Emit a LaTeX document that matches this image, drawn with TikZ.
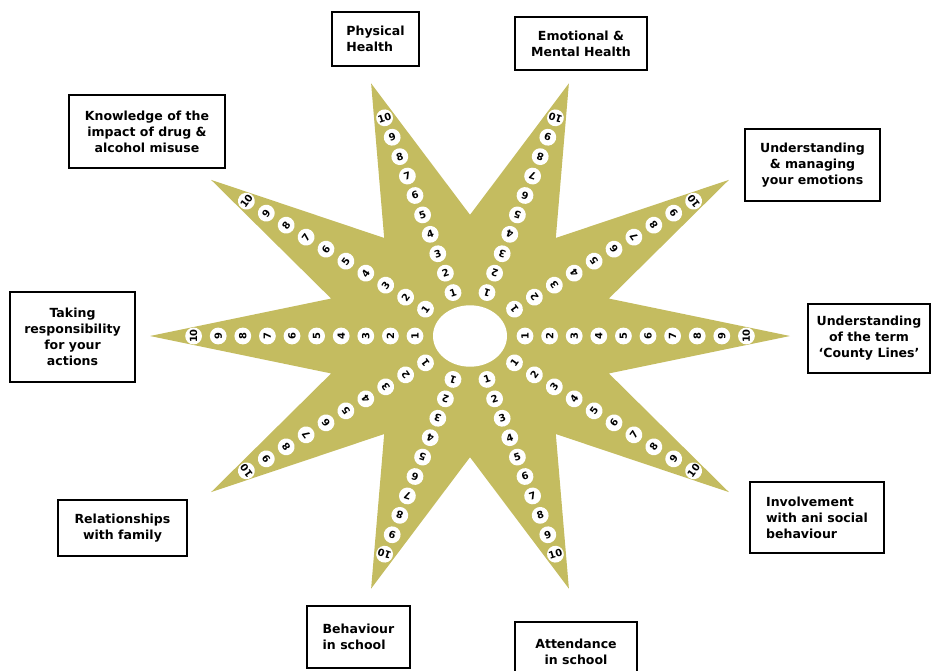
\documentclass[tikz,border=0pt]{standalone}
\usepackage{fontspec}
\setmainfont{DejaVu Sans}
\usepackage{tikz}
\usetikzlibrary{positioning}

\definecolor{starolive}{RGB}{196,188,96}

\tikzset{
  cardbox/.style={draw, line width=1.4pt, fill=white, inner sep=2pt,
    font=\bfseries\fontsize{9.4}{12}\selectfont},
  numdot/.style={circle, fill=white, inner sep=0pt, minimum size=12.6pt,
    font=\bfseries\fontsize{7.4}{7.4}\selectfont}
}

\begin{document}
\begin{tikzpicture}[x=0.75pt, y=-0.75pt]
	\useasboundingbox (0,0) rectangle (932,671);
	% star with the scales
	\begin{scope}[shift={(470,336)}, yscale=-0.83]
		\fill[starolive] (0:320) \foreach \a in {0,36,...,324}{ -- (\a:320) -- (\a+18:146)} -- cycle;
		\fill[white] (0,0) circle (37);
		\foreach \a/\r in {108/18, 72/162, 36/126, 0/90, -36/54, -72/18, -108/162, -144/126, 180/90, 144/54}{
			\foreach \k in {1,...,10}{
				\node[numdot, rotate=\r] (n\a-\k) at (\a:{55+24.6*(\k-1)}) {\k};
			}
		}
	\end{scope}
	% labels
	\node[cardbox, align=left, minimum width=65.3pt, minimum height=40.5pt] (physical) at (375.5,39) {Physical\\Health};
	\node[cardbox, align=center, minimum width=99pt, minimum height=39.8pt] (emotional) at (581,43.5) {Emotional \&\\Mental Health};
	\node[cardbox, align=center, minimum width=117pt, minimum height=54.8pt] (drugs) at (147,131.5) {Knowledge of the\\impact of drug \&\\alcohol misuse};
	\node[cardbox, align=center, minimum width=101.3pt, minimum height=54pt] (managing) at (812.5,165) {Understanding\\\& managing\\your emotions};
	\node[cardbox, align=center, minimum width=93.8pt, minimum height=67.5pt] (responsibility) at (72.5,337) {Taking\\responsibility\\for your\\actions};
	\node[cardbox, align=center, minimum width=91.5pt, minimum height=51.8pt] (county) at (869,338.5) {Understanding\\of the term\\‘County Lines’};
	\node[cardbox, align=center, minimum width=96.8pt, minimum height=42pt] (family) at (122.5,528) {Relationships\\with family};
	\node[cardbox, align=left, minimum width=100.5pt, minimum height=53.3pt] (antisocial) at (817,517.5) {Involvement\\with ani social\\behaviour};
	\node[cardbox, align=left, minimum width=77.3pt, minimum height=46.5pt] (behaviour) at (358.5,637) {Behaviour\\in school};
	\node[cardbox, align=center, minimum width=91.5pt, minimum height=45pt] (attendance) at (576,652) {Attendance\\in school};
\end{tikzpicture}
\end{document}
